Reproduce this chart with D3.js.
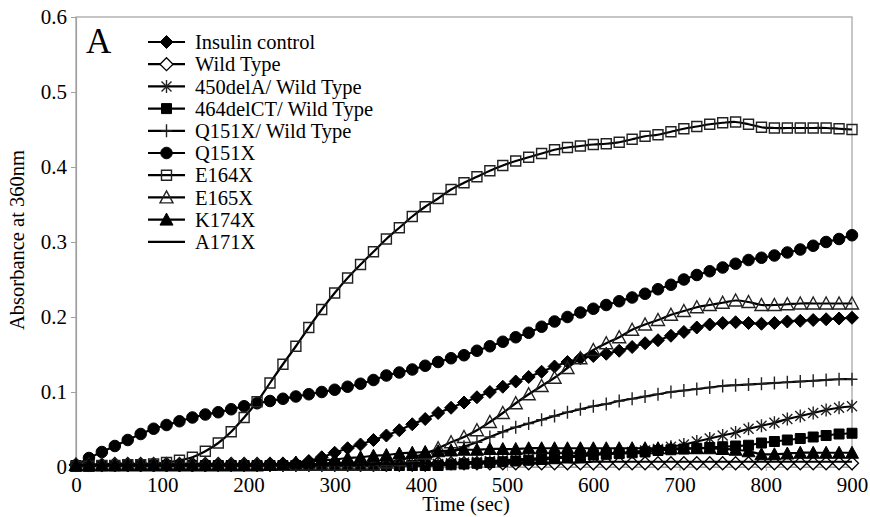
<!DOCTYPE html>
<html>
<head>
<meta charset="utf-8">
<script src="https://cdn.jsdelivr.net/npm/d3@7/dist/d3.min.js"></script>
<style>
body{margin:0;background:#fff;}
text{font-family:"Liberation Serif","Times New Roman",serif;fill:#000;}
</style>
</head>
<body>
<script>
(function(){

//time points (sec), one reading every 15 sec
var times = [0,15,30,45,60,75,90,105,120,135,
    150,165,180,195,210,225,240,255,270,285,
    300,315,330,345,360,375,390,405,420,435,
    450,465,480,495,510,525,540,555,570,585,
    600,615,630,645,660,675,690,705,720,735,
    750,765,780,795,810,825,840,855,870,885,
    900];

//absorbance at 360nm
var insulinControl = [.002,.002,.002,.002,.002,.002,.002,.002,.002,.002,
    .002,.003,.003,.003,.003,.004,.004,.005,.008,.013,
    .019,.025,.030,.036,.042,.049,.057,.064,.072,.079,
    .086,.093,.100,.107,.114,.120,.127,.134,.140,.145,
    .148,.151,.155,.160,.165,.169,.175,.180,.186,.190,
    .192,.193,.192,.191,.192,.194,.195,.196,.197,.198,
    .199];
var wildType = [.003,.003,.003,.004,.004,.004,.004,.004,.004,.004,
    .004,.004,.004,.004,.004,.004,.004,.004,.004,.004,
    .005,.005,.005,.005,.005,.005,.005,.005,.005,.005,
    .005,.005,.005,.005,.005,.005,.005,.005,.005,.005,
    .005,.005,.005,.005,.005,.005,.005,.005,.005,.005,
    .005,.005,.005,.005,.005,.005,.005,.005,.005,.005,
    .005];
var del450WT = [.002,.002,.002,.002,.002,.002,.002,.002,.002,.002,
    .002,.002,.002,.002,.002,.002,.002,.002,.002,.002,
    .002,.002,.002,.002,.002,.002,.002,.002,.004,.005,
    .006,.007,.008,.009,.010,.011,.012,.013,.014,.016,
    .017,.018,.019,.020,.022,.024,.027,.030,.034,.038,
    .042,.046,.051,.055,.059,.064,.068,.072,.076,.079,
    .081];
var del464WT = [.002,.002,.002,.002,.002,.002,.002,.002,.002,.002,
    .002,.002,.002,.002,.002,.002,.002,.002,.002,.002,
    .002,.002,.002,.002,.002,.002,.002,.002,.002,.003,
    .004,.005,.006,.007,.008,.009,.010,.011,.013,.014,
    .016,.017,.018,.019,.020,.022,.023,.024,.025,.026,
    .027,.028,.029,.032,.034,.036,.038,.040,.042,.044,
    .045];
var q151xWT = [.002,.002,.002,.002,.002,.002,.002,.002,.002,.002,
    .002,.002,.002,.002,.002,.002,.002,.002,.002,.002,
    .002,.002,.002,.002,.002,.004,.007,.011,.016,.021,
    .027,.033,.040,.047,.053,.058,.063,.068,.073,.077,
    .081,.084,.088,.091,.094,.097,.100,.102,.104,.106,
    .108,.109,.110,.111,.112,.113,.114,.115,.116,.117,
    .117];
var q151x = [.002,.012,.020,.028,.036,.044,.051,.056,.061,.066,
    .070,.073,.077,.081,.085,.088,.091,.094,.097,.100,
    .103,.107,.111,.116,.122,.126,.130,.135,.140,.145,
    .149,.155,.161,.167,.173,.179,.187,.194,.200,.206,
    .211,.216,.221,.226,.231,.237,.243,.250,.256,.261,
    .266,.271,.276,.279,.282,.286,.290,.295,.300,.304,
    .309];
var e164x = [.001,.001,.002,.002,.003,.003,.004,.006,.009,.013,
    .021,.032,.047,.066,.087,.112,.137,.161,.186,.210,
    .232,.252,.270,.287,.304,.319,.334,.347,.358,.370,
    .379,.387,.395,.402,.408,.413,.418,.423,.426,.428,
    .430,.431,.433,.437,.441,.443,.447,.451,.454,.457,
    .459,.460,.457,.453,.452,.452,.452,.452,.452,.451,
    .450];
var e165x = [.003,.003,.003,.003,.003,.003,.003,.003,.003,.003,
    .003,.003,.003,.003,.003,.003,.003,.003,.003,.003,
    .003,.003,.003,.003,.006,.009,.013,.018,.025,.033,
    .040,.049,.060,.072,.085,.097,.108,.119,.132,.145,
    .156,.165,.173,.183,.190,.196,.203,.208,.213,.216,
    .219,.222,.220,.216,.216,.217,.218,.218,.218,.218,
    .218];
var k174x = [.002,.002,.002,.002,.002,.002,.002,.002,.002,.002,
    .002,.002,.002,.002,.002,.003,.004,.006,.007,.009,
    .010,.012,.013,.015,.016,.018,.019,.020,.021,.022,
    .023,.023,.024,.024,.024,.025,.025,.025,.025,.025,
    .025,.025,.025,.025,.025,.025,.025,.025,.025,.025,
    .024,.023,.021,.017,.017,.018,.019,.019,.019,.019,
    .019];
var a171x = [.003,.003,.003,.003,.003,.003,.003,.003,.003,.003,
    .003,.003,.003,.003,.003,.003,.003,.003,.003,.003,
    .003,.003,.003,.004,.004,.004,.005,.005,.005,.005,
    .006,.006,.006,.006,.006,.006,.006,.006,.006,.006,
    .007,.007,.007,.007,.007,.007,.007,.007,.007,.007,
    .007,.007,.007,.007,.007,.007,.007,.007,.007,.007,
    .007];

//series names and their markers, in legend order
var seriesNames = ["Insulin control", "Wild Type", "450delA/ Wild Type", "464delCT/ Wild Type",
    "Q151X/ Wild Type", "Q151X", "E164X", "E165X", "K174X", "A171X"];
var seriesValues = [insulinControl, wildType, del450WT, del464WT, q151xWT, q151x, e164x, e165x, k174x, a171x];
var seriesMarkers = ["diamondFilled", "diamondOpen", "asterisk", "squareFilled", "plus",
    "circleFilled", "squareOpen", "triangleOpen", "triangleFilled", "none"];

var xTicks = [0,100,200,300,400,500,600,700,800,900];
var yTicks = [0,0.1,0.2,0.3,0.4,0.5,0.6];

window.onload = drawChart();

function drawChart(){
    var width = 870,
        height = 517;

    var svg = d3.select("body")
        .append("svg")
        .attr("width", width)
        .attr("height", height);

    var x = d3.scaleLinear().domain([0, 900]).range([76, 852]);
    var y = d3.scaleLinear().domain([0, 0.6]).range([467, 17]);

    //grey plot frame
    svg.append("rect")
        .attr("x", x(0))
        .attr("y", y(0.6))
        .attr("width", x(900) - x(0))
        .attr("height", y(0) - y(0.6))
        .attr("fill", "none")
        .attr("stroke", "#a0a0a0")
        .attr("stroke-width", 1.2);

    //axes
    var xAxis = svg.append("g")
        .attr("transform", "translate(0," + y(0) + ")")
        .call(d3.axisBottom(x).tickValues(xTicks).tickSize(4).tickSizeOuter(0).tickPadding(6));
    var yAxis = svg.append("g")
        .attr("transform", "translate(" + x(0) + ",0)")
        .call(d3.axisLeft(y).tickValues(yTicks).tickSize(5).tickSizeOuter(0).tickPadding(4)
            .tickFormat(function(d){ return d === 0 ? "0" : d.toFixed(1); }));

    [xAxis, yAxis].forEach(function(ax){
        ax.select(".domain").attr("stroke", "#a0a0a0").attr("stroke-width", 1.2);
        ax.selectAll(".tick line").attr("stroke", "#a0a0a0");
        ax.selectAll(".tick text")
            .attr("fill", "#000")
            .style("font-family", "'Liberation Serif', serif")
            .style("font-size", "21px");
    });

    //axis titles
    svg.append("text")
        .attr("x", 466)
        .attr("y", 511)
        .attr("text-anchor", "middle")
        .style("font-size", "20.5px")
        .text("Time (sec)");

    svg.append("text")
        .attr("transform", "translate(24,240) rotate(-90)")
        .attr("text-anchor", "middle")
        .style("font-size", "20.5px")
        .text("Absorbance at 360nm");

    //panel letter
    svg.append("text")
        .attr("x", 86)
        .attr("y", 53)
        .style("font-size", "35px")
        .text("A");

    //smoothed lines like the original spreadsheet chart
    var line = d3.line()
        .x(function(d){ return x(d[0]); })
        .y(function(d){ return y(d[1]); })
        .curve(d3.curveCatmullRom);

    for (var i=0; i<seriesNames.length; i++){
        var pts = times.map(function(t, j){ return [t, seriesValues[i][j]]; });
        var g = svg.append("g").attr("class", "series");

        g.append("path")
            .datum(pts)
            .attr("d", line)
            .attr("fill", "none")
            .attr("stroke", "#000")
            .attr("stroke-width", 2.2);

        if (seriesMarkers[i] !== "none"){
            var m = seriesMarkers[i];
            g.selectAll(".mark")
                .data(pts)
                .enter()
                .append("path")
                .attr("class", "mark")
                .attr("transform", function(d){ return "translate(" + x(d[0]) + "," + y(d[1]) + ")"; })
                .attr("d", markerPath(m))
                .call(styleMarker, m);
        }
    }

    //legend
    var legend = svg.append("g").attr("transform", "translate(148,42)");
    for (var k=0; k<seriesNames.length; k++){
        var row = legend.append("g").attr("transform", "translate(0," + (k * 22.2) + ")");
        row.append("line")
            .attr("x1", 0).attr("x2", 37)
            .attr("stroke", "#000")
            .attr("stroke-width", 2.2);
        if (seriesMarkers[k] !== "none"){
            row.append("path")
                .attr("transform", "translate(18.5,0)")
                .attr("d", markerPath(seriesMarkers[k]))
                .call(styleMarker, seriesMarkers[k]);
        }
        row.append("text")
            .attr("x", 47)
            .attr("dy", "0.35em")
            .style("font-size", "20.5px")
            .text(seriesNames[k]);
    }
};

//marker shapes, centred on 0,0
function markerPath(type){
    if (type === "diamondFilled" || type === "diamondOpen") return "M0,-6.5L6.5,0L0,6.5L-6.5,0Z";
    if (type === "asterisk") return "M-5,-5L5,5M-5,5L5,-5M0,-6.5L0,6.5";
    if (type === "squareFilled") return "M-5,-5H5V5H-5Z";
    if (type === "squareOpen") return "M-5,-5H5V5H-5Z";
    if (type === "plus") return "M0,-6.5V6.5M-5.5,0H5.5";
    if (type === "circleFilled") return d3.symbol().type(d3.symbolCircle).size(105)();
    if (type === "triangleOpen" || type === "triangleFilled") return "M0,-6.5L6.5,5.5L-6.5,5.5Z";
    return "";
};

function styleMarker(sel, type){
    var filled = type.indexOf("Filled") > -1;
    if (filled){
        sel.attr("fill", "#000").attr("stroke", "#000").attr("stroke-width", 1);
    } else if (type === "diamondOpen"){
        sel.attr("fill", "#fff").attr("stroke", "#000").attr("stroke-width", 1.3);
    } else {
        sel.attr("fill", "none").attr("stroke", "#222").attr("stroke-width", 1.4);
    }
};

})();
</script>
</body>
</html>
